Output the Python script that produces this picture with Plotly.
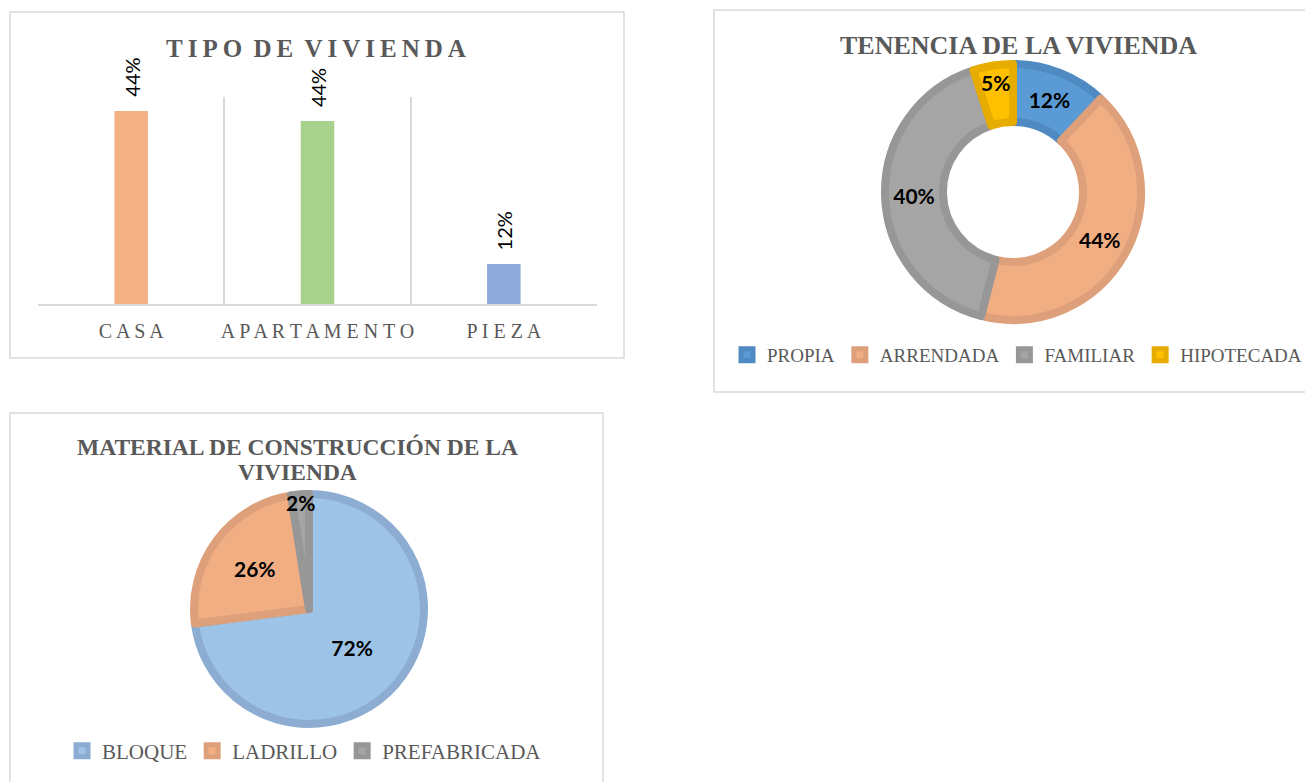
import plotly.graph_objects as go

# page offset of the figure (browser body margin) and figure size
OFF = 8
FW, FH = 1313, 782

# ---------------- data ----------------
# Tipo de vivienda (bar heights, in %)
tipo_categories = ["CASA", "APARTAMENTO", "PIEZA"]
tipo_values = [44.0, 41.7, 9.1]
tipo_labels = ["44%", "44%", "12%"]
tipo_colors = ["#F4B183", "#A9D18E", "#8FAADC"]

# Tenencia de la vivienda (slice sizes)
ten_categories = ["PROPIA", "ARRENDADA", "FAMILIAR", "HIPOTECADA"]
ten_values = [12, 42, 41, 5]
ten_labels = ["12%", "44%", "40%", "5%"]
ten_fill = ["#5B9BD5", "#F2AE83", "#A5A5A5", "#FFC000"]
ten_edge = ["#4F8AC2", "#DEA07A", "#979797", "#E6AC00"]

# Material de construccion
mat_categories = ["BLOQUE", "LADRILLO", "PREFABRICADA"]
mat_values = [73, 24.5, 2.5]
mat_labels = ["72%", "26%", "2%"]
mat_fill = ["#9DC3E6", "#F2AE83", "#A5A5A5"]
mat_edge = ["#8CADD1", "#DEA07A", "#979797"]

SERIF = "Liberation Serif"
SANS = "Lato"
GREY = "#595959"


def px_x(p):
    return (p - OFF) / FW


def px_y(p):
    return 1 - (p - OFF) / FH


def spaced(s, sep=" "):
    return sep.join(list(s))


fig = go.Figure()

# ---------------- bar chart ----------------
fig.add_trace(go.Bar(
    x=list(range(len(tipo_categories))),
    y=tipo_values,
    marker=dict(color=tipo_colors, line=dict(width=0)),
    width=0.18,
    showlegend=False,
    xaxis="x", yaxis="y",
))

for i, (v, lab) in enumerate(zip(tipo_values, tipo_labels)):
    fig.add_annotation(
        x=i, y=v, xref="x", yref="y", text=lab, showarrow=False,
        textangle=-90, yanchor="bottom", xanchor="center", yshift=12,
        font=dict(family=SANS, size=20, color="#000000"),
    )

# ---------------- donut ----------------
fig.add_trace(go.Pie(
    labels=ten_categories, values=ten_values, text=ten_labels,
    textinfo="text", textposition="inside", insidetextorientation="horizontal",
    hole=0.547, sort=False, direction="clockwise", rotation=0,
    marker=dict(colors=ten_fill, line=dict(color=ten_edge, width=8)),
    textfont=dict(family=SANS, size=21, color="#000000", weight="bold"),
    domain=dict(x=[px_x(885), px_x(1141)], y=[px_y(320), px_y(64)]),
    legend="legend",
))

# ---------------- pie ----------------
fig.add_trace(go.Pie(
    labels=mat_categories, values=mat_values, text=mat_labels,
    textinfo="text", textposition="inside", insidetextorientation="horizontal",
    sort=False, direction="clockwise", rotation=0,
    marker=dict(colors=mat_fill, line=dict(color=mat_edge, width=8)),
    textfont=dict(family=SANS, size=21, color="#000000", weight="bold"),
    domain=dict(x=[px_x(194), px_x(424)], y=[px_y(724), px_y(494)]),
    legend="legend2",
))

# ---------------- boxes ----------------
shapes = []
for (x0, y0, x1, y1) in [(10, 12, 624, 358), (714, 10, 1340, 392), (10, 413, 603, 820)]:
    shapes.append(dict(type="rect", xref="paper", yref="paper",
                       x0=px_x(x0), x1=px_x(x1), y0=px_y(y1), y1=px_y(y0),
                       line=dict(color="#D9D9D9", width=1.5), fillcolor="rgba(0,0,0,0)",
                       layer="below"))

# ---------------- titles ----------------
thin = "\u2009"
tipo_title = (" " + thin).join(thin.join(list(w)) for w in "TIPO DE VIVIENDA".split(" "))
titles = [
    (tipo_title, 316, 49, 25),
    ("TENENCIA DE LA VIVIENDA", 1018, 46, 26),
    ("MATERIAL DE CONSTRUCCIÓN DE LA", 297, 447, 23.5),
    ("VIVIENDA", 297, 472, 23.5),
]
for txt, cx, cy, sz in titles:
    fig.add_annotation(
        x=px_x(cx), y=px_y(cy), xref="paper", yref="paper", text="<b>" + txt + "</b>",
        showarrow=False, xanchor="center", yanchor="middle",
        font=dict(family=SERIF, size=sz, color=GREY),
    )

fig.update_layout(
    width=FW, height=FH,
    margin=dict(l=0, r=0, t=0, b=0),
    paper_bgcolor="white", plot_bgcolor="white",
    shapes=shapes,
    uniformtext=dict(minsize=21, mode="show"),
    xaxis=dict(
        domain=[px_x(38), px_x(597)],
        range=[-0.5, 2.5],
        tickvals=list(range(len(tipo_categories))),
        ticktext=[spaced(c) for c in tipo_categories],
        tickfont=dict(family=SERIF, size=20, color=GREY),
        showgrid=False, zeroline=False,
        showline=True, linecolor="#D9D9D9", linewidth=1.5,
        ticks="", ticklabelstandoff=8,
        minor=dict(tickvals=[-0.5, 0.5, 1.5, 2.5], showgrid=True,
                   gridcolor="#D9D9D9", gridwidth=1.5, ticks=""),
        fixedrange=True,
    ),
    yaxis=dict(
        domain=[px_y(304), px_y(97)],
        range=[0, 47.2],
        visible=False, showgrid=False, zeroline=False,
        fixedrange=True,
    ),
    legend=dict(
        orientation="h", x=px_x(727), y=px_y(355), xanchor="left", yanchor="middle",
        font=dict(family=SERIF, size=19, color=GREY),
        bgcolor="rgba(0,0,0,0)", itemclick=False, itemdoubleclick=False,
        traceorder="normal",
    ),
    legend2=dict(
        orientation="h", x=px_x(62), y=px_y(751), xanchor="left", yanchor="middle",
        font=dict(family=SERIF, size=21, color=GREY),
        bgcolor="rgba(0,0,0,0)", itemclick=False, itemdoubleclick=False,
        traceorder="normal",
    ),
)

fig.write_html("out.html")
